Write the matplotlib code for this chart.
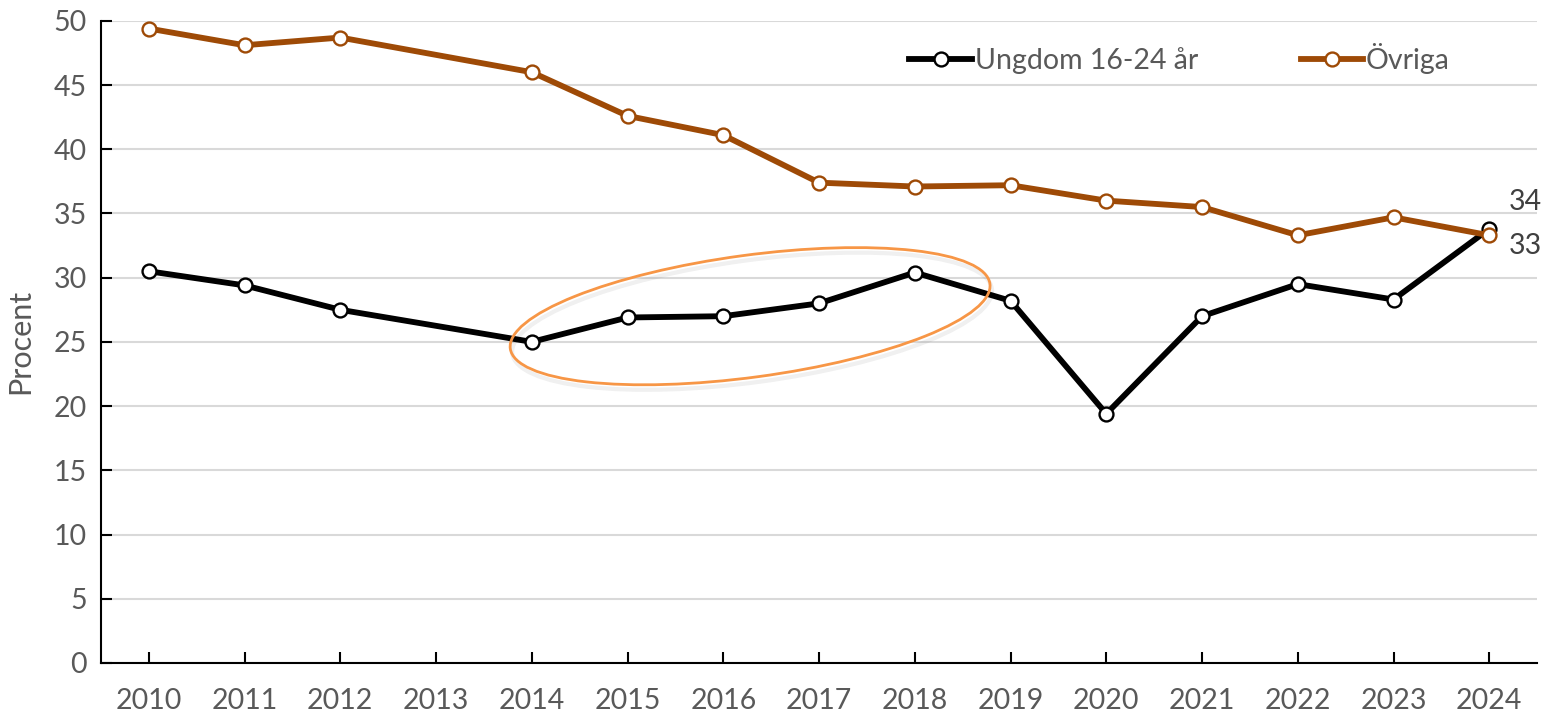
import matplotlib
matplotlib.use("Agg")
import matplotlib.pyplot as plt
from matplotlib.patches import Ellipse
from matplotlib.transforms import ScaledTranslation

plt.rcParams['font.family'] = ['Lato', 'DejaVu Sans']

# data (2013 saknas)
years = [2010, 2011, 2012, 2014, 2015, 2016, 2017, 2018, 2019, 2020, 2021, 2022, 2023, 2024]
ungdom = [30.5, 29.4, 27.5, 25.0, 26.9, 27.0, 28.0, 30.4, 28.2, 19.4, 27.0, 29.5, 28.3, 33.8]
ovriga = [49.4, 48.1, 48.7, 46.0, 42.6, 41.1, 37.4, 37.1, 37.2, 36.0, 35.5, 33.3, 34.7, 33.3]
tick_years = list(range(2010, 2025))
yticks = list(range(0, 55, 5))

black = "#000000"
brown = "#9E4A06"
grey_txt = "#595959"

fig = plt.figure(figsize=(15.41, 7.19), dpi=100)
ax = fig.add_axes([0.0655, 0.078, 0.932, 0.893])

ax.plot(years, ungdom, color=black, lw=4.2, marker='o', ms=10,
        mfc='white', mec=black, mew=1.7, label='Ungdom 16-24 år', zorder=3)
ax.plot(years, ovriga, color=brown, lw=4.2, marker='o', ms=10,
        mfc='white', mec=brown, mew=1.7, label='Övriga', zorder=4)

ax.set_xlim(2009.5, 2024.5)
ax.set_ylim(0, 50)
ax.set_xticks(tick_years)
ax.set_xticklabels([str(y) for y in tick_years])
ax.set_yticks(yticks)
ax.grid(axis='y', color='#D9D9D9', lw=1.5, zorder=0)
ax.set_axisbelow(True)

for s in ['top', 'right']:
    ax.spines[s].set_visible(False)
ax.spines['left'].set_linewidth(1.5)
ax.spines['bottom'].set_linewidth(1.5)
ax.tick_params(axis='both', direction='in', length=8, width=1.5,
               labelsize=20.5, labelcolor=grey_txt)
ax.tick_params(axis='x', pad=18)
ax.tick_params(axis='y', pad=10)
ax.set_ylabel('Procent', fontsize=22, color=grey_txt, labelpad=14)

# etiketter för sista värdet
ax.text(2024.2, 35.9, f"{round(ungdom[-1])}", fontsize=20.5, color='#404040', va='center')
ax.text(2024.2, 32.5, f"{round(ovriga[-1])}", fontsize=20.5, color='#404040', va='center')

# markering 2014-2018
trans = fig.dpi_scale_trans + ScaledTranslation(2016.28, 27.0, ax.transData)
ax.add_patch(Ellipse((0.02, -0.05), 4.84, 1.22, angle=7.7, transform=trans,
                     fill=False, ec='#404040', lw=3.0, alpha=0.08, zorder=2))
ax.add_patch(Ellipse((0, 0), 4.84, 1.22, angle=7.7, transform=trans,
                     fill=False, ec='#F79646', lw=2.0, zorder=5))

ax.legend(loc='upper left', bbox_to_anchor=(0.545, 1.005), ncol=2, frameon=False,
          fontsize=20.5, labelcolor=grey_txt, handlelength=2.2, handletextpad=0.1,
          columnspacing=3.6)

fig.savefig("out.png", dpi=100)
